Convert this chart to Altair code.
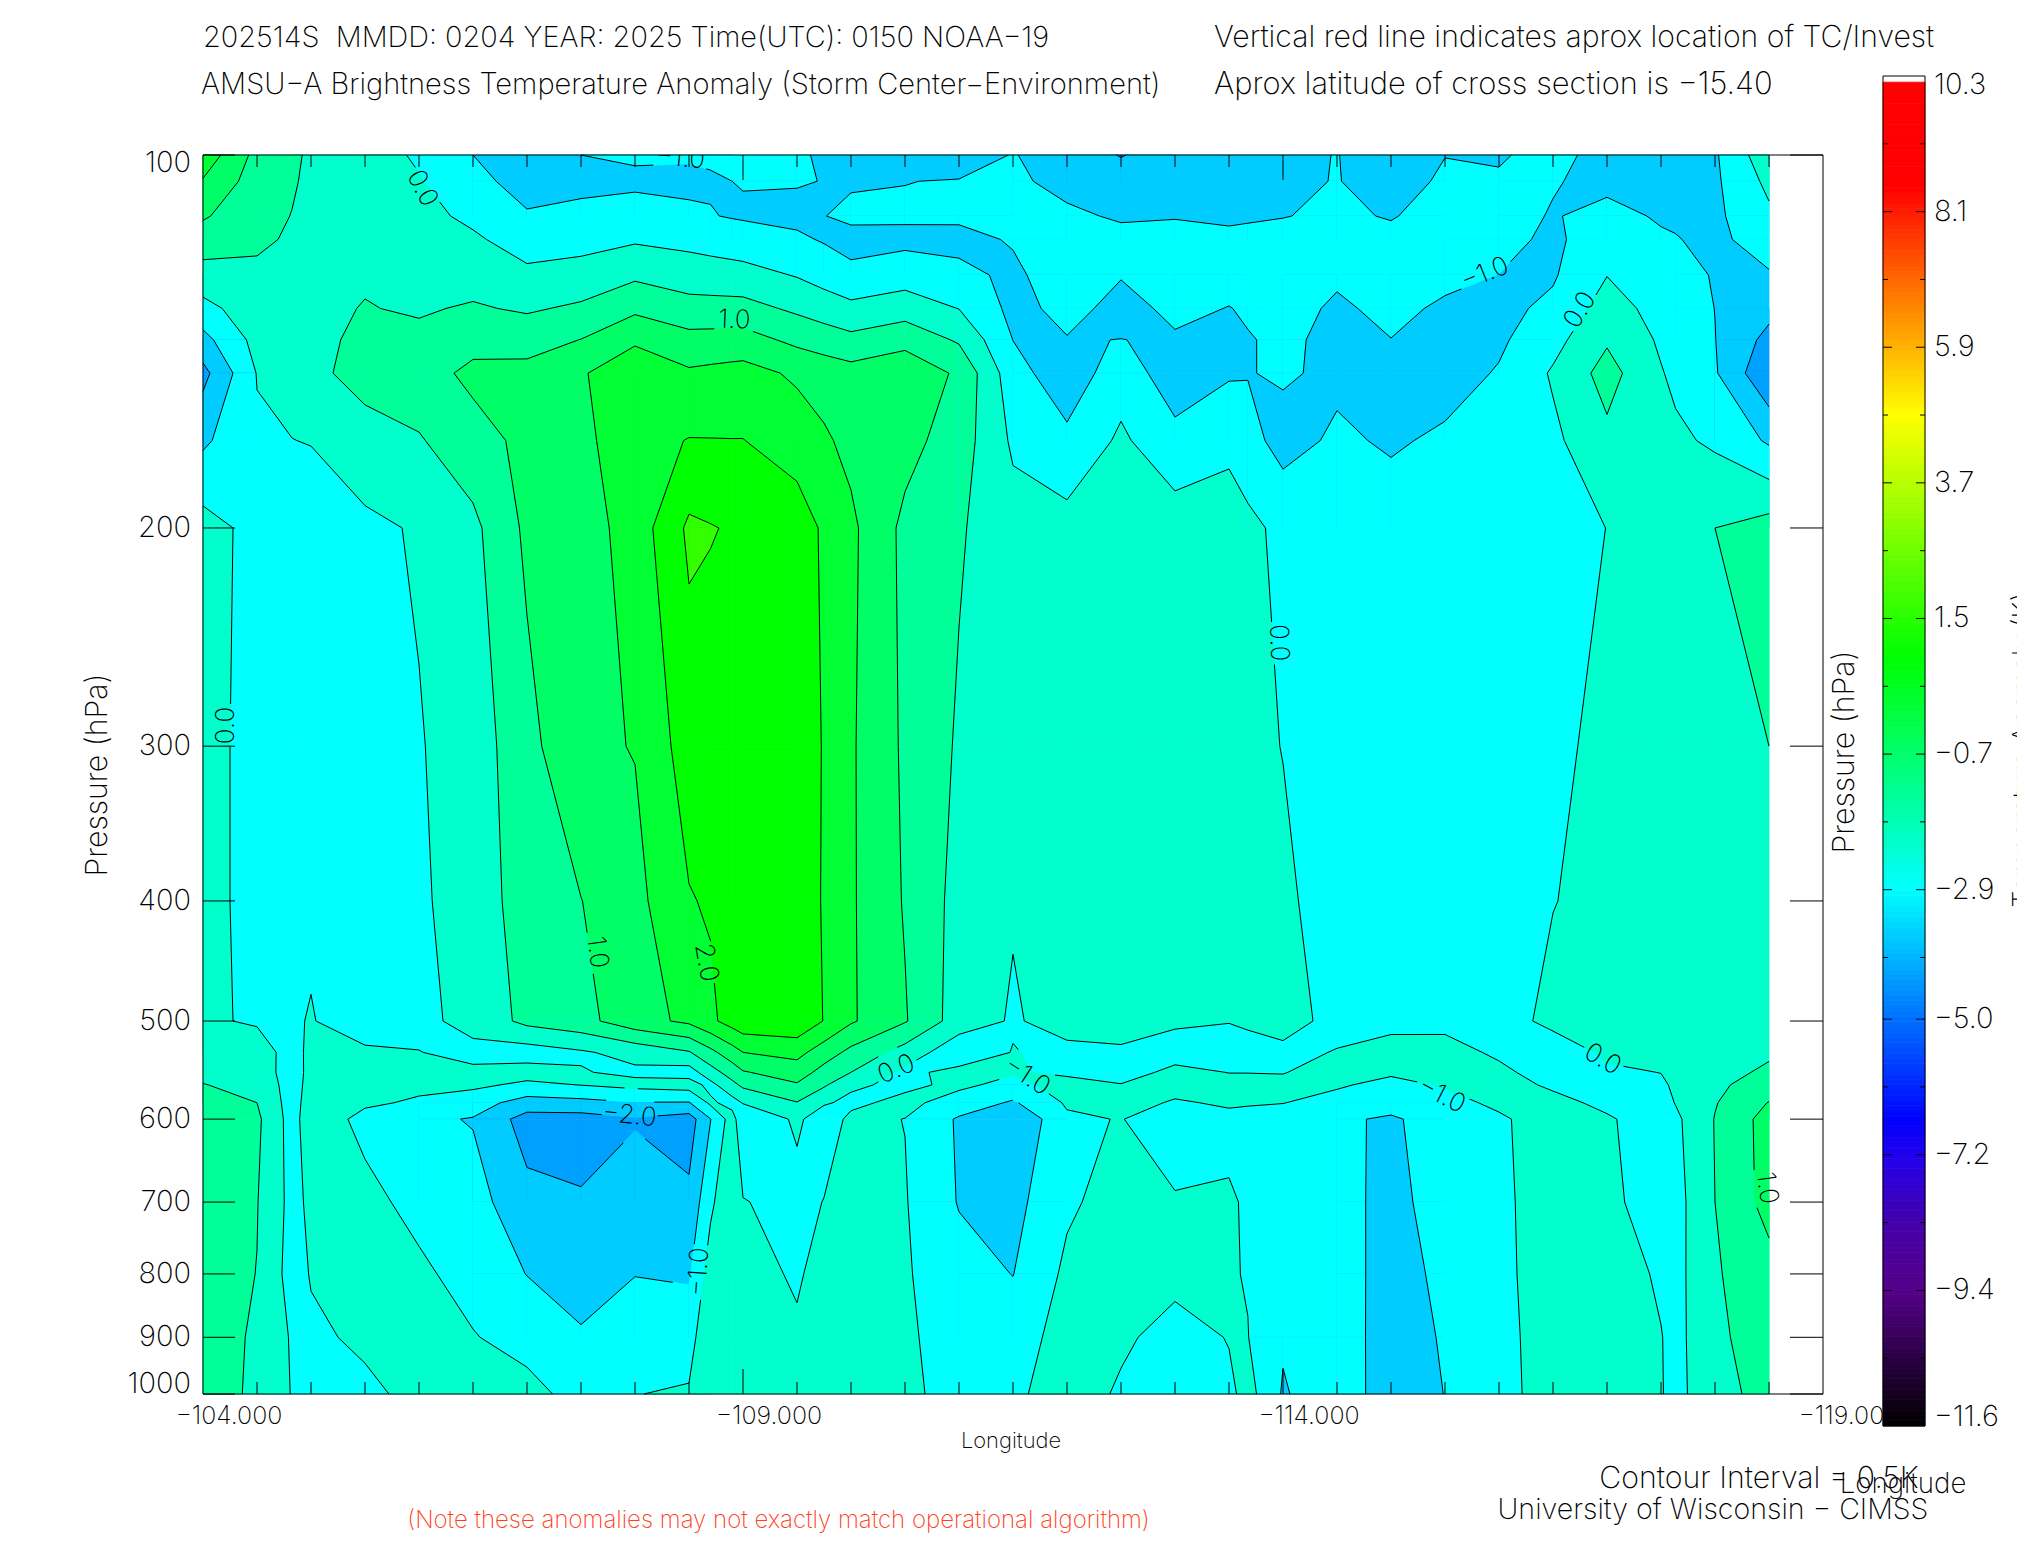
import math
import numpy as np
import pandas as pd
import altair as alt

alt.data_transformers.disable_max_rows()

FONT = "Inter"
WEIGHT = 200

PRESSURE = [100,105,112,117,125,133,141,150,170,200,300,400,500,530,550,563,582,600,700,800,900,1000]
LON = [-104,-104.5,-104.825,-105,-105.5,-106,-106.5,-107,-107.5,-108,-108.5,-108.7,-108.9,-109,-109.5,-109.75,
       -110,-110.5,-111,-111.5,-112,-112.5,-113,-113.5,-113.675,-114,-114.5,-115,-115.5,-116,-116.5,
       -117,-117.5,-117.635,-118,-118.5]

C00 = [1.82,1.46,1.06,.75,.31,-.16,-.66,-1.15,-.59,.2,.22,.22,.05,.29,.42,.51,.64,.76,.8,.78,.75,.9]
C01 = [.85,.76,.64,.56,.43,.29,.16,.02,-.06,-.16,-.22,-.22,-.04,.18,.29,.41,.5,.6,.52,.49,.43,.35]
C01B = [.58,.54,.49,.46,.41,.355,.31,.26,-.01,-.34,-.3,-.2,-.04,-.15,-.25,-.25,-.22,-.2,-.15,-.2,-.05,-.02]
C02 = [.43,.42,.41,.40,.40,.39,.39,.39,.03,-.44,-.35,-.07,.02,.1,.16,.2,.25,.3,.1,.03,-.08,-.3]
C03 = [.2,.26,.33,.38,.45,.52,.59,.66,.32,-.11,-.3,-.3,-.2,.06,.21,.25,.07,-.14,.15,.13,.08,-.095]
C04 = [-.06,.03,.14,.23,.34,.45,.61,.78,.46,.05,-.03,-.067,-.12,.01,.09,.1,-.06,-.4,-.16,.1,.15,.12]
C05 = [-.5,-.32,-.1,.07,.31,.55,.83,1.12,.8,.38,.225,.207,.15,-.12,.08,.1,-.28,-.53,-.3,-.2,.03,.2]
C06 = [-.98,-.74,-.44,-.21,.1,.44,.8,1.15,1.13,1.1,.85,.75,.63,-.23,.2,-.1,-.715,-1.21,-.85,-.51,-.2,.18]
C07 = [-.5,-.57,-.43,-.17,.19,.58,1.01,1.44,1.37,1.27,1.4,.99,.83,-.06,.03,.01,-.65,-1.22,-.95,-.7,-.45,-.2]
C08 = [-.465,-.55,-.39,-.06,.41,.9,1.41,1.9,1.82,1.71,1.52,1.35,1.31,.17,-.1,.14,-.52,-1.05,-.69,-.51,-.28,-.01]
C09 = [-.46,-.58,-.43,-.14,.26,.68,1.16,1.57,2.02,2.59,2.24,1.97,1.6,.46,-.23,.23,-.53,-1.24,-.88,-.56,-.21,.05]
C09C = [-.445,-.54,-.48,-.2,.23,.675,1.175,1.615,2.015,2.525,2.26,2.05,1.9,.87,.3,-.15,.1,-.51,-.1,.25,.45,.2]
C09B = [-.43,-.5,-.53,-.26,.2,.67,1.19,1.66,2.01,2.46,2.28,2.14,2.2,1.29,.72,.37,-.2,.24,.45,.45,.45,.3]
C10 = [-.42,-.48,-.55,-.29,.18,.67,1.2,1.68,2.01,2.43,2.3,2.2,2.35,1.5,.96,.6,.03,-.45,.026,.3,.3,.3]
C11 = [-.43,-.47,-.62,-.42,-.03,.41,.88,1.42,1.78,2.25,2.36,2.35,2.4,1.65,1.25,.95,.48,.086,-.175,-.1,.12,.2]
C11B = [-.57,-.51,-.51,-.54,-.2,.27,.75,1.3,1.57,1.93,1.96,1.95,1.98,1.25,.82,.57,.05,-.26,.015,.3,.3,.3]
C12 = [-.71,-.55,-.40,-.66,-.38,.13,.63,1.19,1.37,1.6,1.56,1.56,1.56,.87,.5,.07,-.1,.105,.25,.25,.25,.25]
C13 = [-.68,-.51,-.43,-.62,-.23,.28,.82,1.39,1.17,.88,.92,.96,1.04,.3,-.12,-.1,.13,-.008,.03,.05,.1,.15]
C14 = [-.82,-.47,-.44,-.6,-.41,-.01,.44,.91,.75,.55,.44,.33,.26,-.35,.15,.1,-.22,-.56,-.53,-.31,-.285,-.255]
C15 = [-.47,-.44,-.45,-.47,-.57,-.63,-.505,-.3,-.08,.2,.3,.04,-.05,.02,.05,-.15,-.56,-.99,-.656,-.51,-.25,-.15]
C16 = [-.78,-.6,-.44,-.32,-.3,-.38,-.52,-.82,-.38,.18,.2,.2,.19,-.12,-.1,.2,.06,-.08,-.078,.1,.21,.38]
C17 = [-1.02,-.82,-.54,-.4,-.48,-.62,-.495,-.2,.08,.45,.3,.22,.15,-.05,-.2,.02,.18,.02,.2,.25,.12,-.1]
C18 = [-.8,-.66,-.52,-.38,-.36,-.42,-.54,-.8,-.34,.25,.3,.2,.07,-.2,.12,.18,-.05,-.31,.05,.2,-.26,-.4]
C19 = [-.85,-.7,-.56,-.42,-.38,-.51,-.62,-.55,-.13,.27,.15,.1,.02,-.25,-.01,.15,.06,-.12,.05,.03,.03,-.12]
C19B = [-.78,-.66,-.54,-.41,-.37,-.46,-.52,-.52,-.33,.13,.1,.09,.09,-.22,-.01,.14,.04,-.15,-.05,-.02,.01,.18]
C20 = [-.66,-.6,-.51,-.4,-.36,-.38,-.44,-.44,-.68,-.13,-.01,.08,.25,-.15,-.02,.12,.01,-.2,-.25,-.3,-.44,-.55]
C21 = [-.48,-.48,-.45,-.42,-.45,-.55,-.58,-.6,-.42,-.2,-.25,-.2,-.2,.03,.2,.05,-.15,-.44,-.33,-.25,-.22,-.16]
C22 = [-.88,-.72,-.52,-.42,-.38,-.42,-.505,-.62,-.56,-.25,-.3,-.3,-.25,.33,.06,-.12,-.35,-.55,-.65,-.72,-.75,-.8]
C23 = [-.51,-.42,-.38,-.38,-.42,-.55,-.67,-.7,-.42,-.18,-.3,-.33,-.15,.2,.1,.04,-.13,-.33,-.28,-.376,-.45,-.49]
C24 = [-.56,-.43,-.34,-.35,-.505,-.62,-.58,-.46,-.3,-.15,-.25,-.3,-.3,-.09,.12,.2,.08,-.06,-.086,-.1,-.13,-.15]
C25 = [-.3,-.47,-.53,-.6,-.55,-.4,-.16,.055,-.1,-.35,-.17,-.02,.18,-.38,-.25,-.08,.15,.2,.2,.2,.2,.2]
C26 = [-.74,-.62,-.36,-.2,-.01,.22,.44,.69,.38,.01,.2,.2,.22,.12,-.1,-.3,-.12,.06,.16,.3,.2,.18]
C27 = [-.82,-.68,-.55,-.44,-.28,-.18,-.07,.03,.15,.22,.25,.25,.3,.15,.01,-.1,-.2,-.27,-.33,-.08,.02,.03]
C27B = [-.75,-.65,-.56,-.48,-.35,-.27,-.18,-.1,.09,.3,.28,.27,.3,.2,.15,.1,.02,-.1,-.18,-.16,-.15,-.15]
C28 = [-.56,-.58,-.6,-.6,-.53,-.505,-.49,-.45,-.08,.5,.36,.32,.3,.34,.38,.42,.47,.52,.5,.45,.4,.35]
C29 = [.34,.12,-.09,-.29,-.54,-.85,-1.15,-1.43,-.57,.71,.5,.38,.35,.45,.56,.7,1.02,1.2,1.18,.82,.75,.65]

COLUMNS = [C00,C01,C01B,C02,C03,C04,C05,C06,C07,C08,C09,C09C,C09B,C10,C11,C11B,C12,C13,C14,C15,C16,C17,C18,C19,C19B,
           C20,C21,C22,C23,C24,C25,C26,C27,C27B,C28,C29]

LEVELS = [-1,-.5,0,.5,1,1.5,2,2.5]
BAND_COLORS = ["#00A0FF","#00CCFF","#00FFFF","#00FFCC","#00FF99","#00FF66","#00FF33","#00FF00","#33FF00"]
SADDLE_WARM = [(-108.5,563,0),(-108.7,582,0),(-110,582,0),(-110.5,563,0),(-111.5,550,0)]

CONTOUR_LABELS = [
    ("0.0",-106.03,106.4,62),("1.0",-108.92,135.9,2),("\u22121.0",-115.87,124.7,-22),
    ("0.0",-116.75,133.4,-58),("0.0",-113.96,247.6,88),("0.0",-104.21,288.7,-90),
    ("1.0",-107.65,440,82),("2.0",-108.66,448.7,80),("\u22122.0",-107.95,596,6),
    ("\u22121.0",-108.59,797,-86),("0.0",-110.42,547,-23),("\u22121.0",-111.63,554,33),
    ("\u22121.0",-115.47,574,27),("0.0",-116.96,537,30),("1.0",-118.48,682,82),
]
TOP_LABEL = [("\u22121.0",-108.42,100.6,5)]

PRESSURE_TICKS = [100,200,300,400,500,600,700,800,900,1000]
PRESSURE_TEXT = ["100","200","300","400","500","600","700","800","900","1000"]
PRESSURE_TEXT_AT = [101.5,200,300,400,500,600,700,800,900,982]
LON_MAJOR = [-104,-109,-114,-119]
LON_TEXT = ["\u2212104.000","\u2212109.000","\u2212114.000","\u2212119.000"]

CB_LABELS = ["10.3","8.1","5.9","3.7","1.5","\u22120.7","\u22122.9","\u22125.0","\u22127.2","\u22129.4","\u221211.6"]
CB_LABEL_AT = [10.15,8.1,5.9,3.7,1.5,-.7,-2.9,-5.0,-7.2,-9.4,-11.45]
CB_MAJOR = [8.1,5.9,3.7,1.5,-.7,-2.9,-5.0,-7.2,-9.4]
CB_MINOR = [9.2,7.0,4.8,2.6,.4,-1.8,-4.0,-6.1,-8.3,-10.5]
CB_STOP_V = [-11.6,-9.4,-8.3,-7.2,-6.64,-2.9,.9,4.8,8.5,10.3]
CB_STOP_C = [(0,0,0),(85,0,136),(68,0,170),(34,0,238),(0,0,255),(0,255,255),(0,255,0),(255,255,0),(255,0,0),(255,0,0)]

W, H = 1620, 1239
TEXTS_LEFT = [
    ("202514S\u00a0\u00a0MMDD: 0204 YEAR: 2025 Time(UTC): 0150 NOAA\u221219",0,-117,28.9,"black",0),
    ("AMSU\u2212A Brightness Temperature Anomaly (Storm Center\u2212Environment)",-2,-70,29.1,"black",0),
    ("Vertical red line indicates aprox location of TC/Invest",1011,-117,30.2,"black",0),
    ("Aprox latitude of cross section is \u221215.40",1011,-70,30.9,"black",0),
]
TEXTS_CENTER = [
    ("(Note these anomalies may not exactly match operational algorithm)",575.5,1366,24,"#FF4020",0),
    ("Longitude",808,1286,21.9,"black",0),
    ("Longitude",1700,1330,27.7,"black",0),
    ("Contour Interval = 0.5K",1556,1324,30.3,"black",0),
    ("University of Wisconsin \u2212 CIMSS",1510,1355,28.6,"black",0),
    ("Pressure (hPa)",-105.5,620,30.3,"black",270),
    ("Pressure (hPa)",1642,597,30.3,"black",270),
    ("Temperature Anomaly (K)",1821,595,27,"black",270),
]

grid = np.array(COLUMNS, dtype=float)
logp = [math.log10(p) for p in PRESSURE]

def to_px(lon, lp):
    return (-104 - lon) * W / 15.0, (lp - 2.0) * H

def clip(poly, level):
    out = []
    n = len(poly)
    for k in range(n):
        a, b = poly[k], poly[(k + 1) % n]
        ina = a[2] >= level
        inb = b[2] >= level
        if ina:
            out.append(a)
        if ina != inb:
            t = (level - a[2]) / (b[2] - a[2])
            out.append((a[0] + t * (b[0] - a[0]), a[1] + t * (b[1] - a[1]), level))
    return out

rows_area = []
segs = []
pid = 0

def add_poly(poly, col):
    global pid
    xs = sorted(set(round(q[0], 7) for q in poly))
    if len(xs) < 2:
        return
    pid += 1
    for x in xs:
        ys = []
        for k in range(len(poly)):
            a, c = poly[k], poly[(k + 1) % len(poly)]
            lo, hi = min(a[0], c[0]), max(a[0], c[0])
            if lo - 1e-6 <= x <= hi + 1e-6:
                if abs(c[0] - a[0]) < 1e-9:
                    ys += [a[1], c[1]]
                else:
                    t = (x - a[0]) / (c[0] - a[0])
                    ys.append(a[1] + t * (c[1] - a[1]))
        rows_area.append({"lon": x, "p": 10 ** min(ys), "p2": 10 ** max(ys), "id": pid, "c": col})

def corner_cut(quad, k, lev):
    a = quad[k]
    nxt, prv = quad[(k + 1) % 4], quad[(k + 3) % 4]
    t1 = (lev - a[2]) / (nxt[2] - a[2])
    t2 = (lev - a[2]) / (prv[2] - a[2])
    p1 = (a[0] + t1 * (nxt[0] - a[0]), a[1] + t1 * (nxt[1] - a[1]), lev)
    p2 = (a[0] + t2 * (prv[0] - a[0]), a[1] + t2 * (prv[1] - a[1]), lev)
    return a, p1, p2

for i in range(len(LON) - 1):
    for j in range(len(PRESSURE) - 1):
        quad = [(LON[i], logp[j], grid[i, j]), (LON[i + 1], logp[j], grid[i + 1, j]),
                (LON[i + 1], logp[j + 1], grid[i + 1, j + 1]), (LON[i], logp[j + 1], grid[i, j + 1])]
        vmin = min(q[2] for q in quad)
        base = sum(1 for l in LEVELS if vmin >= l)
        add_poly(quad, BAND_COLORS[base])
        for b, lev in enumerate(LEVELS):
            hi = [q[2] >= lev for q in quad]
            if all(hi) or not any(hi):
                continue
            if hi[0] == hi[2] and hi[1] == hi[3]:
                if (LON[i], PRESSURE[j], lev) in SADDLE_WARM:
                    add_poly(clip(quad, lev), BAND_COLORS[b + 1])
                    for k in ((1, 3) if hi[0] else (0, 2)):
                        a, p1, p2 = corner_cut(quad, k, lev)
                        segs.append((p1[:2], p2[:2]))
                else:
                    for k in ((0, 2) if hi[0] else (1, 3)):
                        a, p1, p2 = corner_cut(quad, k, lev)
                        add_poly([a, p1, p2], BAND_COLORS[b + 1])
                        segs.append((p1[:2], p2[:2]))
            else:
                add_poly(clip(quad, lev), BAND_COLORS[b + 1])
                pts = []
                for k in range(4):
                    a, c = quad[k], quad[(k + 1) % 4]
                    if (a[2] >= lev) != (c[2] >= lev):
                        t = (lev - a[2]) / (c[2] - a[2])
                        pts.append((a[0] + t * (c[0] - a[0]), a[1] + t * (c[1] - a[1])))
                segs.append((pts[0], pts[1]))

gaps = []
for t, lo, pr, an in CONTOUR_LABELS + TOP_LABEL:
    gaps.append((to_px(lo, math.log10(pr)), 28 if len(t) > 3 else 22))

def split(seg):
    pieces = [(0.0, 1.0)]
    p0, p1 = to_px(*seg[0]), to_px(*seg[1])
    d = (p1[0] - p0[0], p1[1] - p0[1])
    aa = d[0] ** 2 + d[1] ** 2
    if aa == 0:
        return []
    for c, r in gaps:
        f = (p0[0] - c[0], p0[1] - c[1])
        bb = 2 * (f[0] * d[0] + f[1] * d[1])
        cc = f[0] ** 2 + f[1] ** 2 - r * r
        disc = bb * bb - 4 * aa * cc
        if disc <= 0:
            continue
        t0, t1 = (-bb - disc ** .5) / (2 * aa), (-bb + disc ** .5) / (2 * aa)
        new = []
        for s, e in pieces:
            if t1 <= s or t0 >= e:
                new.append((s, e))
            else:
                if t0 > s:
                    new.append((s, t0))
                if t1 < e:
                    new.append((t1, e))
        pieces = new
    return pieces

rows_seg = []
for seg in segs:
    for s, e in split(seg):
        a, c = seg
        rows_seg.append({"x": a[0] + s * (c[0] - a[0]), "x2": a[0] + e * (c[0] - a[0]),
                         "y": 10 ** (a[1] + s * (c[1] - a[1])), "y2": 10 ** (a[1] + e * (c[1] - a[1]))})

XS = alt.Scale(domain=[-104, -119], nice=False, zero=False)
YS = alt.Scale(type="log", domain=[100, 1000], reverse=True, nice=False)
CBS = alt.Scale(domain=[-11.6, 10.3], range=[1271, -79], nice=False, zero=False)
X = lambda f: alt.X(f, scale=XS, axis=None)
Y = lambda f: alt.Y(f, scale=YS, axis=None)
NOAX = dict(scale=None, axis=None)

areas = alt.Chart(pd.DataFrame(rows_area)).mark_area(strokeWidth=0.8, interpolate="linear").encode(
    x=X("lon:Q"), y=alt.Y("p:Q", scale=YS, axis=None, stack=None), y2="p2:Q", detail="id:N",
    color=alt.Color("c:N", scale=None), stroke=alt.Stroke("c:N", scale=None))

lines = alt.Chart(pd.DataFrame(rows_seg)).mark_rule(color="black", strokeWidth=1).encode(
    x=X("x:Q"), x2="x2:Q", y=Y("y:Q"), y2="y2:Q")

def label_df(items):
    return pd.DataFrame([{"t": t, "lon": lo, "p": pr, "a": an % 360} for t, lo, pr, an in items])

def label_layer(items, clipit):
    return alt.Chart(label_df(items)).mark_text(font=FONT, fontWeight=WEIGHT, fontSize=26, color="black",
                                                align="center", baseline="middle", clip=clipit).encode(
        x=X("lon:Q"), y=Y("p:Q"), text="t:N", angle=alt.Angle("a:Q", scale=None))

lab1 = label_layer(CONTOUR_LABELS, False)
lab2 = label_layer(TOP_LABEL, True)

minor_lons = [-104 - .5 * i for i in range(30) if (i % 10) != 0]
major_lons = [-109, -114]
def xtick(vals, y0, y1):
    return alt.Chart(pd.DataFrame({"lon": vals})).mark_rule(color="black", strokeWidth=1).encode(
        x=X("lon:Q"), y=alt.value(y0), y2=alt.value(y1))
def ytick(x0, x1):
    return alt.Chart(pd.DataFrame({"p": PRESSURE_TICKS})).mark_rule(color="black", strokeWidth=1).encode(
        y=Y("p:Q"), x=alt.value(x0), x2=alt.value(x1))
ticks = [xtick(minor_lons, 0, 12), xtick(major_lons, 0, 25), xtick(minor_lons, H - 12, H), xtick(major_lons, H - 25, H),
         ytick(0, 32), ytick(W - 33, W)]

FRAME = pd.DataFrame([
    {"x": 0, "x2": W, "y": 0, "y2": 0}, {"x": 0, "x2": W, "y": H, "y2": H},
    {"x": 0, "x2": 0, "y": 0, "y2": H}, {"x": W, "x2": W, "y": 0, "y2": H},
])
frame = alt.Chart(FRAME).mark_rule(color="black", strokeWidth=1).encode(
    x=alt.X("x:Q", **NOAX), x2="x2:Q", y=alt.Y("y:Q", **NOAX), y2="y2:Q")

plabels = alt.Chart(pd.DataFrame({"t": PRESSURE_TEXT, "p": PRESSURE_TEXT_AT})).mark_text(
    font=FONT, fontWeight=WEIGHT, fontSize=29, color="black", align="right", baseline="middle").encode(
    y=Y("p:Q"), x=alt.value(-12), text="t:N")
xlabels = alt.Chart(pd.DataFrame({"t": LON_TEXT, "lon": LON_MAJOR})).mark_text(
    font=FONT, fontWeight=WEIGHT, fontSize=25, color="black", align="center", baseline="middle", dx=26).encode(
    x=X("lon:Q"), y=alt.value(1260.5), text="t:N")

def text_layer(items, align):
    df = pd.DataFrame(items, columns=["t", "x", "y", "fs", "col", "a"])
    return alt.Chart(df).mark_text(font=FONT, fontWeight=WEIGHT, align=align, baseline="middle").encode(
        x=alt.X("x:Q", **NOAX), y=alt.Y("y:Q", **NOAX), text="t:N",
        size=alt.Size("fs:Q", scale=None), color=alt.Color("col:N", scale=None),
        angle=alt.Angle("a:Q", scale=None))
tleft = text_layer(TEXTS_LEFT, "left")
tcenter = text_layer(TEXTS_CENTER, "center")

edges = np.linspace(-11.6, 10.2, 257)
cb_rows = []
for a, b in zip(edges[:-1], edges[1:]):
    m = (a + b) / 2
    rgb = [int(round(np.interp(m, CB_STOP_V, [c[k] for c in CB_STOP_C]))) for k in range(3)]
    cb_rows.append({"v": a, "v2": b, "c": "#%02x%02x%02x" % tuple(rgb)})
cbar = alt.Chart(pd.DataFrame(cb_rows)).mark_rect(strokeWidth=0.8).encode(
    x=alt.value(1680), x2=alt.value(1722), y=alt.Y("v:Q", scale=CBS, axis=None), y2="v2:Q",
    color=alt.Color("c:N", scale=None), stroke=alt.Stroke("c:N", scale=None))
CBF = pd.DataFrame([
    {"x": 1680, "x2": 1722, "y": -79, "y2": -79}, {"x": 1680, "x2": 1722, "y": 1271, "y2": 1271},
    {"x": 1680, "x2": 1680, "y": -79, "y2": 1271}, {"x": 1722, "x2": 1722, "y": -79, "y2": 1271},
])
cbframe = alt.Chart(CBF).mark_rule(color="black", strokeWidth=1).encode(
    x=alt.X("x:Q", **NOAX), x2="x2:Q", y=alt.Y("y:Q", **NOAX), y2="y2:Q")
def cbtick(vals, x0, x1):
    return alt.Chart(pd.DataFrame({"v": vals})).mark_rule(color="black", strokeWidth=1).encode(
        y=alt.Y("v:Q", scale=CBS, axis=None), x=alt.value(x0), x2=alt.value(x1))
cbticks = [cbtick(CB_MAJOR, 1680, 1689), cbtick(CB_MAJOR, 1713, 1722), cbtick(CB_MINOR, 1680, 1685), cbtick(CB_MINOR, 1717, 1722)]
cblabels = alt.Chart(pd.DataFrame({"t": CB_LABELS, "v": CB_LABEL_AT})).mark_text(
    font=FONT, fontWeight=WEIGHT, fontSize=29, color="black", align="left", baseline="middle").encode(
    y=alt.Y("v:Q", scale=CBS, axis=None), x=alt.value(1731), text="t:N")

chart = alt.layer(
    areas, lines, lab1, lab2, *ticks, frame, plabels, xlabels, tleft, tcenter, cbar, cbframe, *cbticks, cblabels
).resolve_scale(x="independent", y="independent").properties(
    width=W, height=H,
    padding={"left": 195, "top": 147, "right": 194, "bottom": 139},
    autosize=alt.AutoSizeParams(type="none"),
    background="white",
).configure_view(stroke=None)

chart.save("out.html", embed_options={"renderer": "svg", "actions": False})
